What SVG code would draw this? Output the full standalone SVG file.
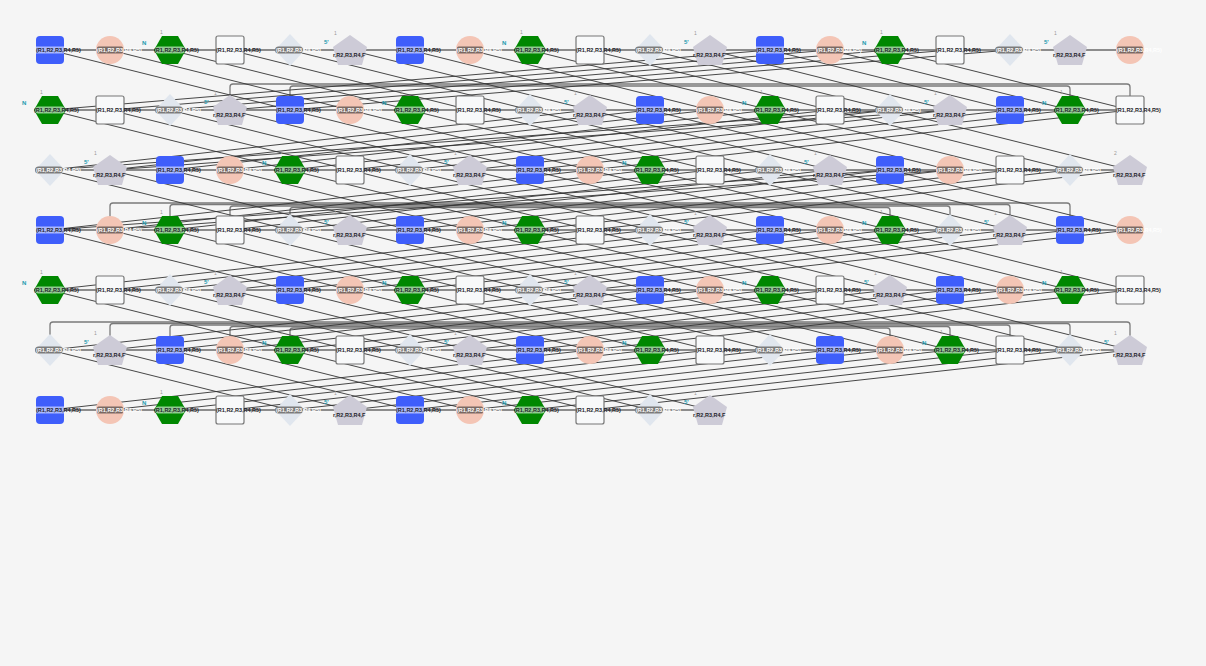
<svg xmlns="http://www.w3.org/2000/svg" xmlns:xlink="http://www.w3.org/1999/xlink" width="1206" height="666" viewBox="0 0 1206 666">
<style>
.t{font-family:"Liberation Sans",Arial,sans-serif;font-size:5.5px;font-weight:bold}
.k{fill:#1e1e2a}
.w{fill:#ffffff}
.g{font-family:"Liberation Sans",Arial,sans-serif;font-size:5px;fill:#9a9a9a}
.n{font-family:"Liberation Sans",Arial,sans-serif;font-size:6px;font-weight:bold;fill:#1c9aae}
.bb{stroke:#8c8c8c;stroke-width:2;fill:none}
.ln{stroke:#333;stroke-width:0.9;fill:none}
.br{stroke:#7a7a7a;stroke-width:1.3;fill:none}
</style>
<defs>
<g id="B"><rect x="-14" y="-14" width="28" height="28" rx="4" fill="#3f5efb"/><rect x="-14" y="-3.5" width="28" height="7" fill="#aab8ff"/></g>
<g id="C"><circle r="14" fill="#f4c5b5"/><rect x="-13" y="-3.5" width="26" height="7" rx="1.5" fill="#7b6963"/></g>
<g id="H"><polygon points="-16,0 -8,-14 8,-14 16,0 8,14 -8,14" fill="#008800"/><rect x="-15" y="-3.5" width="30" height="7" rx="3.5" fill="#92cc92"/></g>
<g id="S"><rect x="-14" y="-14" width="28" height="28" rx="2" fill="#f8f9fa" stroke="#777" stroke-width="1.2"/></g>
<g id="D"><polygon points="0,-16 15,0 0,16 -15,0" fill="#e0e6ee"/><rect x="-15" y="-3.5" width="28" height="7" rx="3.5" fill="#7b7b7b"/></g>
<g id="P"><polygon points="0,-15 17,-3 12,15 -12,15 -17,-3" fill="#cdcbd7"/></g>
</defs>
<rect width="1206" height="666" fill="#f5f5f5"/>
<g id="connectors">
<line class="bb" x1="50" y1="50" x2="1130" y2="50"/>
<line class="bb" x1="50" y1="110" x2="1130" y2="110"/>
<line class="bb" x1="50" y1="170" x2="1130" y2="170"/>
<line class="bb" x1="50" y1="230" x2="1130" y2="230"/>
<line class="bb" x1="50" y1="290" x2="1130" y2="290"/>
<line class="bb" x1="50" y1="350" x2="1130" y2="350"/>
<line class="bb" x1="50" y1="410" x2="710" y2="410"/>
<path class="br" d="M230,110 V87 Q230,84 233,84 H1127 Q1130,84 1130,87 V110"/>
<path class="br" d="M290,110 V89 Q290,86 293,86 H1067 Q1070,86 1070,89 V110"/>
<path class="br" d="M110,230 V206 Q110,203 113,203 H1067 Q1070,203 1070,206 V230"/>
<path class="br" d="M170,230 V207.5 Q170,204.5 173,204.5 H1007 Q1010,204.5 1010,207.5 V230"/>
<path class="br" d="M230,230 V209 Q230,206 233,206 H947 Q950,206 950,209 V230"/>
<path class="br" d="M290,230 V210.5 Q290,207.5 293,207.5 H887 Q890,207.5 890,210.5 V230"/>
<path class="br" d="M50,350 V325 Q50,322 53,322 H1127 Q1130,322 1130,325 V350"/>
<path class="br" d="M110,350 V326.5 Q110,323.5 113,323.5 H1067 Q1070,323.5 1070,326.5 V350"/>
<path class="br" d="M170,350 V328 Q170,325 173,325 H1007 Q1010,325 1010,328 V350"/>
<path class="br" d="M230,350 V329.5 Q230,326.5 233,326.5 H947 Q950,326.5 950,329.5 V350"/>
<path class="br" d="M290,350 V331 Q290,328 293,328 H887 Q890,328 890,331 V350"/>
<path class="ln" d="M50,50L290,110M110,50L350,110M170,50L410,110M230,50L470,110M290,50L530,110M350,50L590,110M410,50L650,110M470,50L710,110M530,50L770,110M590,50L830,110M650,50L890,110M710,50L950,110M770,50L1010,110M830,50L1070,110M890,50L1130,110"/>
<path class="ln" d="M50,110L770,50M110,110L830,50M170,110L890,50M230,110L950,50M290,110L1010,50"/>
<path class="ln" d="M50,110L290,170M110,110L350,170M170,110L410,170M230,110L470,170M290,110L530,170M350,110L590,170M410,110L650,170M470,110L710,170M530,110L770,170M590,110L830,170M650,110L890,170M710,110L950,170M770,110L1010,170M830,110L1070,170M890,110L1130,170"/>
<path class="ln" d="M50,170L590,110M110,170L650,110M170,170L710,110M230,170L770,110M290,170L830,110M350,170L890,110M410,170L950,110M470,170L1010,110M530,170L1070,110M590,170L1130,110M50,170L890,110M110,170L950,110"/>
<path class="ln" d="M50,170L290,230M110,170L350,230M170,170L410,230M230,170L470,230M290,170L530,230M350,170L590,230M410,170L650,230M470,170L710,230M530,170L770,230M590,170L830,230M650,170L890,230M710,170L950,230M770,170L1010,230M830,170L1070,230M890,170L1130,230"/>
<path class="ln" d="M50,230L590,170M110,230L650,170M170,230L710,170M230,230L770,170M290,230L830,170M350,230L890,170M410,230L950,170M470,230L1010,170M530,230L1070,170M590,230L1130,170M50,230L890,170M110,230L950,170"/>
<path class="ln" d="M50,230L290,290M110,230L350,290M170,230L410,290M230,230L470,290M290,230L530,290M350,230L590,290M410,230L650,290M470,230L710,290M530,230L770,290M590,230L830,290M650,230L890,290M710,230L950,290M770,230L1010,290M830,230L1070,290M890,230L1130,290"/>
<path class="ln" d="M50,290L590,230M110,290L650,230M170,290L710,230M230,290L770,230M290,290L830,230M350,290L890,230M410,290L950,230M470,290L1010,230M530,290L1070,230M590,290L1130,230"/>
<path class="ln" d="M50,290L290,350M110,290L350,350M170,290L410,350M230,290L470,350M290,290L530,350M350,290L590,350M410,290L650,350M470,290L710,350M530,290L770,350M590,290L830,350M650,290L890,350M710,290L950,350M770,290L1010,350M830,290L1070,350M890,290L1130,350"/>
<path class="ln" d="M50,350L590,290M110,350L650,290M170,350L710,290M230,350L770,290M290,350L830,290M350,350L890,290M410,350L950,290M470,350L1010,290M530,350L1070,290M590,350L1130,290"/>
<path class="ln" d="M50,350L290,410M110,350L350,410M170,350L410,410M230,350L470,410M290,350L530,410M350,350L590,410M410,350L650,410M470,350L710,410"/>
<path class="ln" d="M50,410L590,350M110,410L650,350M170,410L710,350M230,410L770,350M290,410L830,350M350,410L890,350M410,410L950,350M470,410L1010,350M530,410L1070,350M590,410L1130,350"/>
</g>
<g id="row0">
<g id="n0_0" transform="translate(50,50)"><use href="#B"/><text class="t k" x="-14" y="2">(R1,R2,R3,R4,R5)</text></g>
<g id="n0_1" transform="translate(110,50)"><use href="#C"/><text class="t w" x="-13" y="2">(R1,R2,R3,R4,R5)</text></g>
<g id="n0_2" transform="translate(170,50)"><use href="#H"/><text class="t k" x="-16" y="2">(R1,R2,R3,R4,R5)</text><text class="g" x="-10" y="-16">1</text><text class="n" x="-28" y="-5">N</text></g>
<g id="n0_3" transform="translate(230,50)"><use href="#S"/><text class="t k" x="-14" y="2">(R1,R2,R3,R4,R5)</text></g>
<g id="n0_4" transform="translate(290,50)"><use href="#D"/><text class="t w" x="-14" y="2">(R1,R2,R3,R4,R5)</text></g>
<g id="n0_5" transform="translate(350,50)"><use href="#P"/><text class="t k" x="-17" y="7">r,R2,R3,R4,F</text><text class="n" x="-26" y="-6">5'</text><text class="g" x="-16" y="-15">1</text></g>
<g id="n0_6" transform="translate(410,50)"><use href="#B"/><text class="t k" x="-14" y="2">(R1,R2,R3,R4,R5)</text></g>
<g id="n0_7" transform="translate(470,50)"><use href="#C"/><text class="t w" x="-13" y="2">(R1,R2,R3,R4,R5)</text></g>
<g id="n0_8" transform="translate(530,50)"><use href="#H"/><text class="t k" x="-16" y="2">(R1,R2,R3,R4,R5)</text><text class="g" x="-10" y="-16">1</text><text class="n" x="-28" y="-5">N</text></g>
<g id="n0_9" transform="translate(590,50)"><use href="#S"/><text class="t k" x="-14" y="2">(R1,R2,R3,R4,R5)</text></g>
<g id="n0_10" transform="translate(650,50)"><use href="#D"/><text class="t w" x="-14" y="2">(R1,R2,R3,R4,R5)</text></g>
<g id="n0_11" transform="translate(710,50)"><use href="#P"/><text class="t k" x="-17" y="7">r,R2,R3,R4,F</text><text class="n" x="-26" y="-6">5'</text><text class="g" x="-16" y="-15">1</text></g>
<g id="n0_12" transform="translate(770,50)"><use href="#B"/><text class="t k" x="-14" y="2">(R1,R2,R3,R4,R5)</text></g>
<g id="n0_13" transform="translate(830,50)"><use href="#C"/><text class="t w" x="-13" y="2">(R1,R2,R3,R4,R5)</text></g>
<g id="n0_14" transform="translate(890,50)"><use href="#H"/><text class="t k" x="-16" y="2">(R1,R2,R3,R4,R5)</text><text class="g" x="-10" y="-16">1</text><text class="n" x="-28" y="-5">N</text></g>
<g id="n0_15" transform="translate(950,50)"><use href="#S"/><text class="t k" x="-14" y="2">(R1,R2,R3,R4,R5)</text></g>
<g id="n0_16" transform="translate(1010,50)"><use href="#D"/><text class="t w" x="-14" y="2">(R1,R2,R3,R4,R5)</text></g>
<g id="n0_17" transform="translate(1070,50)"><use href="#P"/><text class="t k" x="-17" y="7">r,R2,R3,R4,F</text><text class="n" x="-26" y="-6">5'</text><text class="g" x="-16" y="-15">1</text></g>
<g id="n0_18" transform="translate(1130,50)"><use href="#C"/><text class="t w" x="-13" y="2">(R1,R2,R3,R4,R5)</text></g>
</g>
<g id="row1">
<g id="n1_0" transform="translate(50,110)"><use href="#H"/><text class="t k" x="-16" y="2">(R1,R2,R3,R4,R5)</text><text class="g" x="-10" y="-16">1</text><text class="n" x="-28" y="-5">N</text></g>
<g id="n1_1" transform="translate(110,110)"><use href="#S"/><text class="t k" x="-14" y="2">(R1,R2,R3,R4,R5)</text></g>
<g id="n1_2" transform="translate(170,110)"><use href="#D"/><text class="t w" x="-14" y="2">(R1,R2,R3,R4,R5)</text></g>
<g id="n1_3" transform="translate(230,110)"><use href="#P"/><text class="t k" x="-17" y="7">r,R2,R3,R4,F</text><text class="n" x="-26" y="-6">5'</text><text class="g" x="-16" y="-15">1</text></g>
<g id="n1_4" transform="translate(290,110)"><use href="#B"/><text class="t k" x="-14" y="2">(R1,R2,R3,R4,R5)</text></g>
<g id="n1_5" transform="translate(350,110)"><use href="#C"/><text class="t w" x="-13" y="2">(R1,R2,R3,R4,R5)</text></g>
<g id="n1_6" transform="translate(410,110)"><use href="#H"/><text class="t k" x="-16" y="2">(R1,R2,R3,R4,R5)</text><text class="g" x="-10" y="-16">1</text><text class="n" x="-28" y="-5">N</text></g>
<g id="n1_7" transform="translate(470,110)"><use href="#S"/><text class="t k" x="-14" y="2">(R1,R2,R3,R4,R5)</text></g>
<g id="n1_8" transform="translate(530,110)"><use href="#D"/><text class="t w" x="-14" y="2">(R1,R2,R3,R4,R5)</text></g>
<g id="n1_9" transform="translate(590,110)"><use href="#P"/><text class="t k" x="-17" y="7">r,R2,R3,R4,F</text><text class="n" x="-26" y="-6">5'</text><text class="g" x="-16" y="-15">1</text></g>
<g id="n1_10" transform="translate(650,110)"><use href="#B"/><text class="t k" x="-14" y="2">(R1,R2,R3,R4,R5)</text></g>
<g id="n1_11" transform="translate(710,110)"><use href="#C"/><text class="t w" x="-13" y="2">(R1,R2,R3,R4,R5)</text></g>
<g id="n1_12" transform="translate(770,110)"><use href="#H"/><text class="t k" x="-16" y="2">(R1,R2,R3,R4,R5)</text><text class="g" x="-10" y="-16">1</text><text class="n" x="-28" y="-5">N</text></g>
<g id="n1_13" transform="translate(830,110)"><use href="#S"/><text class="t k" x="-14" y="2">(R1,R2,R3,R4,R5)</text></g>
<g id="n1_14" transform="translate(890,110)"><use href="#D"/><text class="t w" x="-14" y="2">(R1,R2,R3,R4,R5)</text></g>
<g id="n1_15" transform="translate(950,110)"><use href="#P"/><text class="t k" x="-17" y="7">r,R2,R3,R4,F</text><text class="n" x="-26" y="-6">5'</text><text class="g" x="-16" y="-15">1</text></g>
<g id="n1_16" transform="translate(1010,110)"><use href="#B"/><text class="t k" x="-14" y="2">(R1,R2,R3,R4,R5)</text></g>
<g id="n1_17" transform="translate(1070,110)"><use href="#H"/><text class="t k" x="-16" y="2">(R1,R2,R3,R4,R5)</text><text class="g" x="-10" y="-16">1</text><text class="n" x="-28" y="-5">N</text></g>
<g id="n1_18" transform="translate(1130,110)"><use href="#S"/><text class="t k" x="-14" y="2">(R1,R2,R3,R4,R5)</text></g>
</g>
<g id="row2">
<g id="n2_0" transform="translate(50,170)"><use href="#D"/><text class="t w" x="-14" y="2">(R1,R2,R3,R4,R5)</text></g>
<g id="n2_1" transform="translate(110,170)"><use href="#P"/><text class="t k" x="-17" y="7">r,R2,R3,R4,F</text><text class="n" x="-26" y="-6">5'</text><text class="g" x="-16" y="-15">1</text></g>
<g id="n2_2" transform="translate(170,170)"><use href="#B"/><text class="t k" x="-14" y="2">(R1,R2,R3,R4,R5)</text></g>
<g id="n2_3" transform="translate(230,170)"><use href="#C"/><text class="t w" x="-13" y="2">(R1,R2,R3,R4,R5)</text></g>
<g id="n2_4" transform="translate(290,170)"><use href="#H"/><text class="t k" x="-16" y="2">(R1,R2,R3,R4,R5)</text><text class="g" x="-10" y="-16">1</text><text class="n" x="-28" y="-5">N</text></g>
<g id="n2_5" transform="translate(350,170)"><use href="#S"/><text class="t k" x="-14" y="2">(R1,R2,R3,R4,R5)</text></g>
<g id="n2_6" transform="translate(410,170)"><use href="#D"/><text class="t w" x="-14" y="2">(R1,R2,R3,R4,R5)</text></g>
<g id="n2_7" transform="translate(470,170)"><use href="#P"/><text class="t k" x="-17" y="7">r,R2,R3,R4,F</text><text class="n" x="-26" y="-6">5'</text><text class="g" x="-16" y="-15">1</text></g>
<g id="n2_8" transform="translate(530,170)"><use href="#B"/><text class="t k" x="-14" y="2">(R1,R2,R3,R4,R5)</text></g>
<g id="n2_9" transform="translate(590,170)"><use href="#C"/><text class="t w" x="-13" y="2">(R1,R2,R3,R4,R5)</text></g>
<g id="n2_10" transform="translate(650,170)"><use href="#H"/><text class="t k" x="-16" y="2">(R1,R2,R3,R4,R5)</text><text class="g" x="-10" y="-16">1</text><text class="n" x="-28" y="-5">N</text></g>
<g id="n2_11" transform="translate(710,170)"><use href="#S"/><text class="t k" x="-14" y="2">(R1,R2,R3,R4,R5)</text></g>
<g id="n2_12" transform="translate(770,170)"><use href="#D"/><text class="t w" x="-14" y="2">(R1,R2,R3,R4,R5)</text></g>
<g id="n2_13" transform="translate(830,170)"><use href="#P"/><text class="t k" x="-17" y="7">r,R2,R3,R4,F</text><text class="n" x="-26" y="-6">5'</text><text class="g" x="-16" y="-15">1</text></g>
<g id="n2_14" transform="translate(890,170)"><use href="#B"/><text class="t k" x="-14" y="2">(R1,R2,R3,R4,R5)</text></g>
<g id="n2_15" transform="translate(950,170)"><use href="#C"/><text class="t w" x="-13" y="2">(R1,R2,R3,R4,R5)</text></g>
<g id="n2_16" transform="translate(1010,170)"><use href="#S"/><text class="t k" x="-14" y="2">(R1,R2,R3,R4,R5)</text></g>
<g id="n2_17" transform="translate(1070,170)"><use href="#D"/><text class="t w" x="-14" y="2">(R1,R2,R3,R4,R5)</text></g>
<g id="n2_18" transform="translate(1130,170)"><use href="#P"/><text class="t k" x="-17" y="7">r,R2,R3,R4,F</text><text class="g" x="-16" y="-15">2</text></g>
</g>
<g id="row3">
<g id="n3_0" transform="translate(50,230)"><use href="#B"/><text class="t k" x="-14" y="2">(R1,R2,R3,R4,R5)</text></g>
<g id="n3_1" transform="translate(110,230)"><use href="#C"/><text class="t w" x="-13" y="2">(R1,R2,R3,R4,R5)</text></g>
<g id="n3_2" transform="translate(170,230)"><use href="#H"/><text class="t k" x="-16" y="2">(R1,R2,R3,R4,R5)</text><text class="g" x="-10" y="-16">1</text><text class="n" x="-28" y="-5">N</text></g>
<g id="n3_3" transform="translate(230,230)"><use href="#S"/><text class="t k" x="-14" y="2">(R1,R2,R3,R4,R5)</text></g>
<g id="n3_4" transform="translate(290,230)"><use href="#D"/><text class="t w" x="-14" y="2">(R1,R2,R3,R4,R5)</text></g>
<g id="n3_5" transform="translate(350,230)"><use href="#P"/><text class="t k" x="-17" y="7">r,R2,R3,R4,F</text><text class="n" x="-26" y="-6">5'</text><text class="g" x="-16" y="-15">1</text></g>
<g id="n3_6" transform="translate(410,230)"><use href="#B"/><text class="t k" x="-14" y="2">(R1,R2,R3,R4,R5)</text></g>
<g id="n3_7" transform="translate(470,230)"><use href="#C"/><text class="t w" x="-13" y="2">(R1,R2,R3,R4,R5)</text></g>
<g id="n3_8" transform="translate(530,230)"><use href="#H"/><text class="t k" x="-16" y="2">(R1,R2,R3,R4,R5)</text><text class="g" x="-10" y="-16">1</text><text class="n" x="-28" y="-5">N</text></g>
<g id="n3_9" transform="translate(590,230)"><use href="#S"/><text class="t k" x="-14" y="2">(R1,R2,R3,R4,R5)</text></g>
<g id="n3_10" transform="translate(650,230)"><use href="#D"/><text class="t w" x="-14" y="2">(R1,R2,R3,R4,R5)</text></g>
<g id="n3_11" transform="translate(710,230)"><use href="#P"/><text class="t k" x="-17" y="7">r,R2,R3,R4,F</text><text class="n" x="-26" y="-6">5'</text><text class="g" x="-16" y="-15">1</text></g>
<g id="n3_12" transform="translate(770,230)"><use href="#B"/><text class="t k" x="-14" y="2">(R1,R2,R3,R4,R5)</text></g>
<g id="n3_13" transform="translate(830,230)"><use href="#C"/><text class="t w" x="-13" y="2">(R1,R2,R3,R4,R5)</text></g>
<g id="n3_14" transform="translate(890,230)"><use href="#H"/><text class="t k" x="-16" y="2">(R1,R2,R3,R4,R5)</text><text class="g" x="-10" y="-16">1</text><text class="n" x="-28" y="-5">N</text></g>
<g id="n3_15" transform="translate(950,230)"><use href="#D"/><text class="t w" x="-14" y="2">(R1,R2,R3,R4,R5)</text></g>
<g id="n3_16" transform="translate(1010,230)"><use href="#P"/><text class="t k" x="-17" y="7">r,R2,R3,R4,F</text><text class="n" x="-26" y="-6">5'</text><text class="g" x="-16" y="-15">1</text></g>
<g id="n3_17" transform="translate(1070,230)"><use href="#B"/><text class="t k" x="-14" y="2">(R1,R2,R3,R4,R5)</text></g>
<g id="n3_18" transform="translate(1130,230)"><use href="#C"/><text class="t w" x="-13" y="2">(R1,R2,R3,R4,R5)</text></g>
</g>
<g id="row4">
<g id="n4_0" transform="translate(50,290)"><use href="#H"/><text class="t k" x="-16" y="2">(R1,R2,R3,R4,R5)</text><text class="g" x="-10" y="-16">1</text><text class="n" x="-28" y="-5">N</text></g>
<g id="n4_1" transform="translate(110,290)"><use href="#S"/><text class="t k" x="-14" y="2">(R1,R2,R3,R4,R5)</text></g>
<g id="n4_2" transform="translate(170,290)"><use href="#D"/><text class="t w" x="-14" y="2">(R1,R2,R3,R4,R5)</text></g>
<g id="n4_3" transform="translate(230,290)"><use href="#P"/><text class="t k" x="-17" y="7">r,R2,R3,R4,F</text><text class="n" x="-26" y="-6">5'</text><text class="g" x="-16" y="-15">1</text></g>
<g id="n4_4" transform="translate(290,290)"><use href="#B"/><text class="t k" x="-14" y="2">(R1,R2,R3,R4,R5)</text></g>
<g id="n4_5" transform="translate(350,290)"><use href="#C"/><text class="t w" x="-13" y="2">(R1,R2,R3,R4,R5)</text></g>
<g id="n4_6" transform="translate(410,290)"><use href="#H"/><text class="t k" x="-16" y="2">(R1,R2,R3,R4,R5)</text><text class="g" x="-10" y="-16">1</text><text class="n" x="-28" y="-5">N</text></g>
<g id="n4_7" transform="translate(470,290)"><use href="#S"/><text class="t k" x="-14" y="2">(R1,R2,R3,R4,R5)</text></g>
<g id="n4_8" transform="translate(530,290)"><use href="#D"/><text class="t w" x="-14" y="2">(R1,R2,R3,R4,R5)</text></g>
<g id="n4_9" transform="translate(590,290)"><use href="#P"/><text class="t k" x="-17" y="7">r,R2,R3,R4,F</text><text class="n" x="-26" y="-6">5'</text><text class="g" x="-16" y="-15">1</text></g>
<g id="n4_10" transform="translate(650,290)"><use href="#B"/><text class="t k" x="-14" y="2">(R1,R2,R3,R4,R5)</text></g>
<g id="n4_11" transform="translate(710,290)"><use href="#C"/><text class="t w" x="-13" y="2">(R1,R2,R3,R4,R5)</text></g>
<g id="n4_12" transform="translate(770,290)"><use href="#H"/><text class="t k" x="-16" y="2">(R1,R2,R3,R4,R5)</text><text class="g" x="-10" y="-16">1</text><text class="n" x="-28" y="-5">N</text></g>
<g id="n4_13" transform="translate(830,290)"><use href="#S"/><text class="t k" x="-14" y="2">(R1,R2,R3,R4,R5)</text></g>
<g id="n4_14" transform="translate(890,290)"><use href="#P"/><text class="t k" x="-17" y="7">r,R2,R3,R4,F</text><text class="n" x="-26" y="-6">5'</text><text class="g" x="-16" y="-15">1</text></g>
<g id="n4_15" transform="translate(950,290)"><use href="#B"/><text class="t k" x="-14" y="2">(R1,R2,R3,R4,R5)</text></g>
<g id="n4_16" transform="translate(1010,290)"><use href="#C"/><text class="t w" x="-13" y="2">(R1,R2,R3,R4,R5)</text></g>
<g id="n4_17" transform="translate(1070,290)"><use href="#H"/><text class="t k" x="-16" y="2">(R1,R2,R3,R4,R5)</text><text class="g" x="-10" y="-16">1</text><text class="n" x="-28" y="-5">N</text></g>
<g id="n4_18" transform="translate(1130,290)"><use href="#S"/><text class="t k" x="-14" y="2">(R1,R2,R3,R4,R5)</text></g>
</g>
<g id="row5">
<g id="n5_0" transform="translate(50,350)"><use href="#D"/><text class="t w" x="-14" y="2">(R1,R2,R3,R4,R5)</text></g>
<g id="n5_1" transform="translate(110,350)"><use href="#P"/><text class="t k" x="-17" y="7">r,R2,R3,R4,F</text><text class="n" x="-26" y="-6">5'</text><text class="g" x="-16" y="-15">1</text></g>
<g id="n5_2" transform="translate(170,350)"><use href="#B"/><text class="t k" x="-14" y="2">(R1,R2,R3,R4,R5)</text></g>
<g id="n5_3" transform="translate(230,350)"><use href="#C"/><text class="t w" x="-13" y="2">(R1,R2,R3,R4,R5)</text></g>
<g id="n5_4" transform="translate(290,350)"><use href="#H"/><text class="t k" x="-16" y="2">(R1,R2,R3,R4,R5)</text><text class="g" x="-10" y="-16">1</text><text class="n" x="-28" y="-5">N</text></g>
<g id="n5_5" transform="translate(350,350)"><use href="#S"/><text class="t k" x="-14" y="2">(R1,R2,R3,R4,R5)</text></g>
<g id="n5_6" transform="translate(410,350)"><use href="#D"/><text class="t w" x="-14" y="2">(R1,R2,R3,R4,R5)</text></g>
<g id="n5_7" transform="translate(470,350)"><use href="#P"/><text class="t k" x="-17" y="7">r,R2,R3,R4,F</text><text class="n" x="-26" y="-6">5'</text><text class="g" x="-16" y="-15">1</text></g>
<g id="n5_8" transform="translate(530,350)"><use href="#B"/><text class="t k" x="-14" y="2">(R1,R2,R3,R4,R5)</text></g>
<g id="n5_9" transform="translate(590,350)"><use href="#C"/><text class="t w" x="-13" y="2">(R1,R2,R3,R4,R5)</text></g>
<g id="n5_10" transform="translate(650,350)"><use href="#H"/><text class="t k" x="-16" y="2">(R1,R2,R3,R4,R5)</text><text class="g" x="-10" y="-16">1</text><text class="n" x="-28" y="-5">N</text></g>
<g id="n5_11" transform="translate(710,350)"><use href="#S"/><text class="t k" x="-14" y="2">(R1,R2,R3,R4,R5)</text></g>
<g id="n5_12" transform="translate(770,350)"><use href="#D"/><text class="t w" x="-14" y="2">(R1,R2,R3,R4,R5)</text></g>
<g id="n5_13" transform="translate(830,350)"><use href="#B"/><text class="t k" x="-14" y="2">(R1,R2,R3,R4,R5)</text></g>
<g id="n5_14" transform="translate(890,350)"><use href="#C"/><text class="t w" x="-13" y="2">(R1,R2,R3,R4,R5)</text></g>
<g id="n5_15" transform="translate(950,350)"><use href="#H"/><text class="t k" x="-16" y="2">(R1,R2,R3,R4,R5)</text><text class="g" x="-10" y="-16">1</text><text class="n" x="-28" y="-5">N</text></g>
<g id="n5_16" transform="translate(1010,350)"><use href="#S"/><text class="t k" x="-14" y="2">(R1,R2,R3,R4,R5)</text></g>
<g id="n5_17" transform="translate(1070,350)"><use href="#D"/><text class="t w" x="-14" y="2">(R1,R2,R3,R4,R5)</text></g>
<g id="n5_18" transform="translate(1130,350)"><use href="#P"/><text class="t k" x="-17" y="7">r,R2,R3,R4,F</text><text class="n" x="-26" y="-6">5'</text><text class="g" x="-16" y="-15">1</text></g>
</g>
<g id="row6">
<g id="n6_0" transform="translate(50,410)"><use href="#B"/><text class="t k" x="-14" y="2">(R1,R2,R3,R4,R5)</text></g>
<g id="n6_1" transform="translate(110,410)"><use href="#C"/><text class="t w" x="-13" y="2">(R1,R2,R3,R4,R5)</text></g>
<g id="n6_2" transform="translate(170,410)"><use href="#H"/><text class="t k" x="-16" y="2">(R1,R2,R3,R4,R5)</text><text class="g" x="-10" y="-16">1</text><text class="n" x="-28" y="-5">N</text></g>
<g id="n6_3" transform="translate(230,410)"><use href="#S"/><text class="t k" x="-14" y="2">(R1,R2,R3,R4,R5)</text></g>
<g id="n6_4" transform="translate(290,410)"><use href="#D"/><text class="t w" x="-14" y="2">(R1,R2,R3,R4,R5)</text></g>
<g id="n6_5" transform="translate(350,410)"><use href="#P"/><text class="t k" x="-17" y="7">r,R2,R3,R4,F</text><text class="n" x="-26" y="-6">5'</text><text class="g" x="-16" y="-15">1</text></g>
<g id="n6_6" transform="translate(410,410)"><use href="#B"/><text class="t k" x="-14" y="2">(R1,R2,R3,R4,R5)</text></g>
<g id="n6_7" transform="translate(470,410)"><use href="#C"/><text class="t w" x="-13" y="2">(R1,R2,R3,R4,R5)</text></g>
<g id="n6_8" transform="translate(530,410)"><use href="#H"/><text class="t k" x="-16" y="2">(R1,R2,R3,R4,R5)</text><text class="g" x="-10" y="-16">1</text><text class="n" x="-28" y="-5">N</text></g>
<g id="n6_9" transform="translate(590,410)"><use href="#S"/><text class="t k" x="-14" y="2">(R1,R2,R3,R4,R5)</text></g>
<g id="n6_10" transform="translate(650,410)"><use href="#D"/><text class="t w" x="-14" y="2">(R1,R2,R3,R4,R5)</text></g>
<g id="n6_11" transform="translate(710,410)"><use href="#P"/><text class="t k" x="-17" y="7">r,R2,R3,R4,F</text><text class="n" x="-26" y="-6">5'</text><text class="g" x="-16" y="-15">1</text></g>
</g>
</svg>
